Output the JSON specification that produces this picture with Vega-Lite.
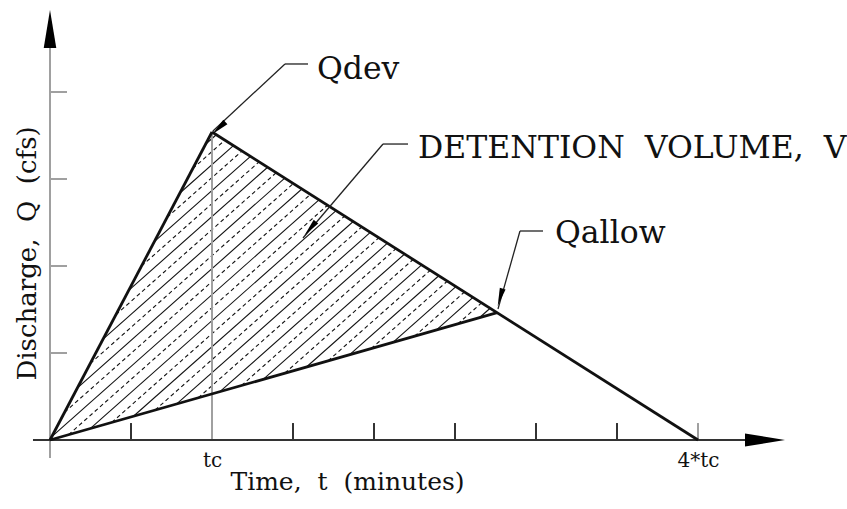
{
  "$schema": "https://vega.github.io/schema/vega-lite/v6.json",
  "width": 757,
  "height": 435,
  "autosize": {"type": "none"},
  "padding": {"left": 33, "top": 5, "right": 57, "bottom": 69},
  "background": "white",
  "config": {"view": {"stroke": null}, "font": "DejaVu Serif"},
  "datasets": {
    "hatchSolid": [
      {"x": 0.9603, "y": 3.3995, "x2": 1.0265, "y2": 3.5087},
      {"x": 0.8021, "y": 2.8395, "x2": 1.1322, "y2": 3.3841},
      {"x": 0.6439, "y": 2.2795, "x2": 1.2378, "y2": 3.2594},
      {"x": 0.4858, "y": 1.7196, "x2": 1.3434, "y2": 3.1348},
      {"x": 0.3276, "y": 1.1596, "x2": 1.4491, "y2": 3.0101},
      {"x": 0.1694, "y": 0.5996, "x2": 1.5547, "y2": 2.8854},
      {"x": 0.0112, "y": 0.0396, "x2": 1.6604, "y2": 2.7608},
      {"x": 0.2481, "y": 0.1315, "x2": 1.7660, "y2": 2.6361},
      {"x": 0.5151, "y": 0.2730, "x2": 1.8717, "y2": 2.5114},
      {"x": 0.7821, "y": 0.4146, "x2": 1.9773, "y2": 2.3868},
      {"x": 1.0490, "y": 0.5561, "x2": 2.0830, "y2": 2.2621},
      {"x": 1.3160, "y": 0.6976, "x2": 2.1886, "y2": 2.1375},
      {"x": 1.5830, "y": 0.8391, "x2": 2.2943, "y2": 2.0128},
      {"x": 1.8499, "y": 0.9807, "x2": 2.3999, "y2": 1.8881},
      {"x": 2.1169, "y": 1.1222, "x2": 2.5056, "y2": 1.7635},
      {"x": 2.3839, "y": 1.2637, "x2": 2.6112, "y2": 1.6388},
      {"x": 2.6508, "y": 1.4052, "x2": 2.7168, "y2": 1.5141}
    ],
    "hatchDashed": [
      {"x": 0.8812, "y": 3.1195, "x2": 1.0793, "y2": 3.4464},
      {"x": 0.7230, "y": 2.5596, "x2": 1.1850, "y2": 3.3217},
      {"x": 0.5648, "y": 1.9995, "x2": 1.2906, "y2": 3.1971},
      {"x": 0.4067, "y": 1.4396, "x2": 1.3963, "y2": 3.0724},
      {"x": 0.2485, "y": 0.8796, "x2": 1.5019, "y2": 2.9478},
      {"x": 0.0903, "y": 0.3196, "x2": 1.6076, "y2": 2.8231},
      {"x": 0.1146, "y": 0.0608, "x2": 1.7132, "y2": 2.6984},
      {"x": 0.3816, "y": 0.2023, "x2": 1.8189, "y2": 2.5738},
      {"x": 0.6486, "y": 0.3438, "x2": 1.9245, "y2": 2.4491},
      {"x": 0.9155, "y": 0.4853, "x2": 2.0301, "y2": 2.3244},
      {"x": 1.1825, "y": 0.6269, "x2": 2.1358, "y2": 2.1998},
      {"x": 1.4495, "y": 0.7684, "x2": 2.2414, "y2": 2.0751},
      {"x": 1.7165, "y": 0.9099, "x2": 2.3471, "y2": 1.9505},
      {"x": 1.9834, "y": 1.0514, "x2": 2.4527, "y2": 1.8258},
      {"x": 2.2504, "y": 1.1929, "x2": 2.5584, "y2": 1.7011},
      {"x": 2.5174, "y": 1.3345, "x2": 2.6640, "y2": 1.5765}
    ],
    "grayLines": [
      {"x": 1, "y": 0, "x2": 1, "y2": 3.54},
      {"x": 0, "y": -0.207, "x2": 0, "y2": 4.506},
      {"x": 0, "y": 1, "x2": 0.105, "y2": 1},
      {"x": 0, "y": 2, "x2": 0.105, "y2": 2},
      {"x": 0, "y": 3, "x2": 0.105, "y2": 3},
      {"x": 0, "y": 4, "x2": 0.105, "y2": 4},
      {"x": 4, "y": 0, "x2": 4, "y2": 0.195}
    ],
    "darkLines": [
      {"x": -0.105, "y": 0, "x2": 4.30, "y2": 0},
      {"x": 0.5, "y": 0, "x2": 0.5, "y2": 0.195},
      {"x": 1.5, "y": 0, "x2": 1.5, "y2": 0.195},
      {"x": 2.0, "y": 0, "x2": 2.0, "y2": 0.195},
      {"x": 2.5, "y": 0, "x2": 2.5, "y2": 0.195},
      {"x": 3.0, "y": 0, "x2": 3.0, "y2": 0.195},
      {"x": 3.5, "y": 0, "x2": 3.5, "y2": 0.195}
    ],
    "outline": [
      {"x": 0, "y": 0, "x2": 1, "y2": 3.54},
      {"x": 1, "y": 3.54, "x2": 4, "y2": 0},
      {"x": 0, "y": 0, "x2": 2.76, "y2": 1.4632}
    ],
    "leaders": [
      {"x": 1.4506, "y": 4.322, "x2": 1.5926, "y2": 4.322},
      {"x": 1.4506, "y": 4.322, "x2": 1.006, "y2": 3.552},
      {"x": 2.0556, "y": 3.402, "x2": 2.2099, "y2": 3.402},
      {"x": 2.0556, "y": 3.402, "x2": 1.5617, "y2": 2.3218},
      {"x": 2.9012, "y": 2.4023, "x2": 3.0432, "y2": 2.4023},
      {"x": 2.9012, "y": 2.4023, "x2": 2.7654, "y2": 1.5057}
    ],
    "arrows": [
      {"x": 4.4136, "y": 0, "angle": 90, "size": 1600},
      {"x": 0, "y": 4.7241, "angle": 0, "size": 1444},
      {"x": 1.0420, "y": 3.585, "angle": 227, "size": 324},
      {"x": 1.6060, "y": 2.430, "angle": 220, "size": 324},
      {"x": 2.7790, "y": 1.640, "angle": 196, "size": 324}
    ],
    "labels": [
      {"x": 1.648, "y": 4.149, "label": "Qdev"},
      {"x": 2.272, "y": 3.241, "label": "DETENTION\u00a0\u00a0VOLUME,\u00a0\u00a0V"},
      {"x": 3.117, "y": 2.264, "label": "Qallow"}
    ]
  },
  "encoding": {
    "x": {
      "field": "x",
      "type": "quantitative",
      "scale": {"domain": [-0.10494, 4.5679], "nice": false, "zero": false},
      "axis": {
        "values": [1, 4],
        "labelExpr": "datum.value == 1 ? 'tc' : '4*tc'",
        "domain": false,
        "ticks": false,
        "grid": false,
        "labelFont": "DejaVu Serif",
        "labelFontSize": 20,
        "labelColor": "#111111",
        "labelBaseline": "alphabetic",
        "labelPadding": 26,
        "labelFlush": false,
        "labelOverlap": false,
        "title": "Time,\u00a0\u00a0t\u00a0\u00a0(minutes)",
        "titleFont": "DejaVu Serif",
        "titleFontSize": 25,
        "titleFontWeight": "normal",
        "titleColor": "#111111",
        "titleBaseline": "alphabetic",
        "titleAlign": "center",
        "titleX": 314,
        "titleY": 49
      }
    },
    "y": {
      "field": "y",
      "type": "quantitative",
      "scale": {"domain": [0, 5], "nice": false, "zero": false},
      "axis": {
        "domain": false,
        "ticks": false,
        "labels": false,
        "grid": false,
        "title": "Discharge,\u00a0\u00a0Q\u00a0\u00a0(cfs)",
        "titleFont": "DejaVu Serif",
        "titleFontSize": 26,
        "titleFontWeight": "normal",
        "titleColor": "#111111",
        "titleAngle": 270,
        "titleBaseline": "alphabetic",
        "titleAlign": "center",
        "titleX": 2,
        "titleY": 248
      }
    }
  },
  "layer": [
    {
      "data": {"name": "hatchSolid"},
      "mark": {"type": "rule", "color": "#111111", "strokeWidth": 1.1},
      "encoding": {"x2": {"field": "x2"}, "y2": {"field": "y2"}}
    },
    {
      "data": {"name": "hatchDashed"},
      "mark": {"type": "rule", "color": "#111111", "strokeWidth": 1.1, "strokeDash": [4, 3]},
      "encoding": {"x2": {"field": "x2"}, "y2": {"field": "y2"}}
    },
    {
      "data": {"name": "grayLines"},
      "mark": {"type": "rule", "color": "#a0a0a0", "strokeWidth": 2},
      "encoding": {"x2": {"field": "x2"}, "y2": {"field": "y2"}}
    },
    {
      "data": {"name": "darkLines"},
      "mark": {"type": "rule", "color": "#333333", "strokeWidth": 2},
      "encoding": {"x2": {"field": "x2"}, "y2": {"field": "y2"}}
    },
    {
      "data": {"name": "outline"},
      "mark": {"type": "rule", "color": "#111111", "strokeWidth": 2.8},
      "encoding": {"x2": {"field": "x2"}, "y2": {"field": "y2"}}
    },
    {
      "data": {"name": "leaders"},
      "mark": {"type": "rule", "color": "#222222", "strokeWidth": 1.3},
      "encoding": {"x2": {"field": "x2"}, "y2": {"field": "y2"}}
    },
    {
      "data": {"name": "arrows"},
      "mark": {"type": "point", "shape": "M0,-1L0.33,1L-0.33,1Z", "filled": true, "color": "#000000", "opacity": 1},
      "encoding": {
        "angle": {"field": "angle", "type": "quantitative", "scale": null},
        "size": {"field": "size", "type": "quantitative", "scale": null, "legend": null}
      }
    },
    {
      "data": {"name": "labels"},
      "mark": {"type": "text", "align": "left", "baseline": "alphabetic", "font": "DejaVu Serif", "fontSize": 31.5, "color": "#111111"},
      "encoding": {"text": {"field": "label"}}
    }
  ]
}
